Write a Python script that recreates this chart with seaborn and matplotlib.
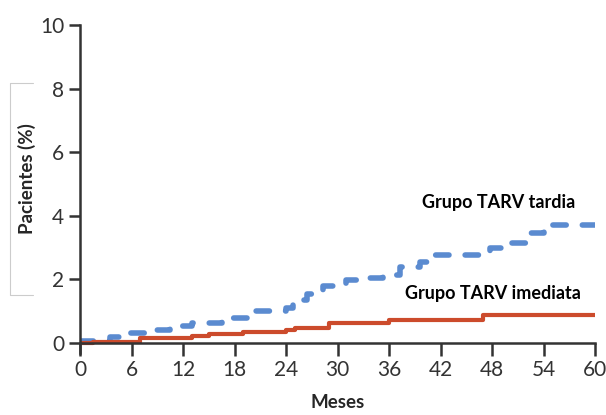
import matplotlib
matplotlib.use("Agg")
import pandas as pd
import seaborn as sns
from matplotlib import pyplot as plt
from matplotlib.lines import Line2D

# data (months, % patients)
meses_tardia = [0, 3.5, 5.8, 8, 10.5, 13, 16.5, 20, 24, 24.8, 26.5, 28.3, 31, 33,
                35.3, 37.3, 39.6, 41, 47.8, 49, 52.5, 54, 60]
pct_tardia = [0.05, 0.19, 0.3, 0.4, 0.53, 0.62, 0.8, 1.0, 1.1, 1.35, 1.55, 1.78, 1.98, 2.05,
              2.15, 2.4, 2.55, 2.77, 2.98, 3.15, 3.45, 3.7, 3.7]
meses_imediata = [0, 1.5, 7, 13, 15, 19, 24, 25, 29, 36, 47, 60]
pct_imediata = [0, 0.03, 0.15, 0.22, 0.28, 0.35, 0.4, 0.47, 0.63, 0.72, 0.88, 0.88]
xticks = list(range(0, 61, 6))
yticks = [0, 2, 4, 6, 8, 10]

sns.set_style("ticks")
plt.rcParams['font.family'] = ['Lato', 'DejaVu Sans']

tardia = pd.DataFrame({"mes": meses_tardia, "pct": pct_tardia})
imediata = pd.DataFrame({"mes": meses_imediata, "pct": pct_imediata})

fig = plt.figure(figsize=(6.06, 4.15), dpi=100)
ax = fig.add_axes([0.132, 0.1506, 0.850, 0.789])

sns.lineplot(x="mes", y="pct", data=tardia, ax=ax, drawstyle="steps-post",
             color="#5b8bd0", linewidth=4, linestyle=(0, (2.4, 2.9)),
             dash_capstyle="round")
sns.lineplot(x="mes", y="pct", data=imediata, ax=ax, drawstyle="steps-post",
             color="#cc4b2c", linewidth=3)

ax.set_xlim(0, 60)
ax.set_ylim(-0.3, 10)
ax.spines['top'].set_visible(False)
ax.spines['right'].set_visible(False)
ax.spines['bottom'].set_position(('data', 0))
for s in ['left', 'bottom']:
    ax.spines[s].set_linewidth(1.8)
    ax.spines[s].set_color("#333333")
ax.set_xticks(xticks)
ax.set_yticks(yticks)
ax.tick_params(axis='both', length=8, width=1.8, color="#333333",
               labelsize=15, labelcolor="#333333")
ax.tick_params(axis='x', length=9, pad=3)

ax.set_xlabel("Meses", fontsize=13.5, fontweight="bold")
ax.set_ylabel("Pacientes (%)", fontsize=13.5, fontweight="bold")
ax.xaxis.set_label_coords(0.5, -0.128)
ax.yaxis.set_label_coords(-0.086, 0.53)

ax.text(48.8, 4.43, "Grupo TARV tardia", fontsize=13, fontweight="bold",
        ha="center", va="center", color="black")
ax.text(48.1, 1.57, "Grupo TARV imediata", fontsize=13, fontweight="bold",
        ha="center", va="center", color="black")

# faint bracket around the y label
bx = [33 / 606, 10 / 606, 10 / 606, 33 / 606]
by = [1 - 83 / 415, 1 - 83 / 415, 1 - 295 / 415, 1 - 295 / 415]
fig.add_artist(Line2D(bx, by, transform=fig.transFigure, color="#cccccc", linewidth=0.8))

fig.savefig("out.png", dpi=100)
